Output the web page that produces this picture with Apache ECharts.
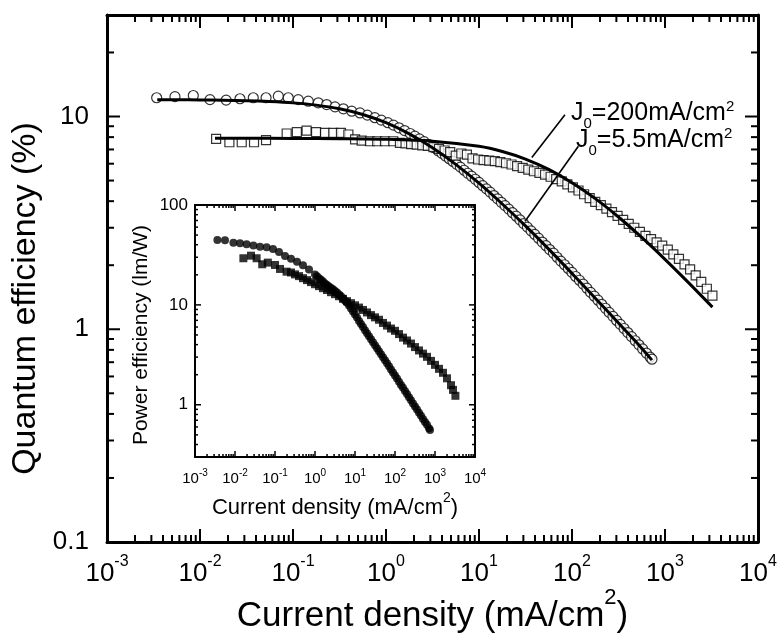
<!DOCTYPE html>
<html>
<head>
<meta charset="utf-8">
<title>Quantum efficiency vs current density</title>
<script src="https://cdn.jsdelivr.net/npm/echarts@6/dist/echarts.min.js"></script>
<style>
  html, body { margin: 0; padding: 0; background: #fff; }
  #chart { width: 780px; height: 635px; }
</style>
</head>
<body>
<div id="chart"></div>
<script>
// ---- values ----
// main plot, open circles (J0 = 5.5 mA/cm2 device)
const circJ = [0.00342, 0.00538, 0.00847, 0.0128, 0.0191, 0.0269, 0.0374, 0.0513, 0.0695, 0.0889,
  0.114, 0.146, 0.187, 0.230, 0.283, 0.348, 0.428, 0.525, 0.631, 0.759, 0.891, 1.047, 1.202, 1.380,
  1.585, 1.820, 2.042, 2.291, 2.570, 2.884, 3.236, 3.631, 3.981, 4.365, 4.786, 5.248, 5.754, 6.310,
  6.918, 7.586, 8.318, 9.120, 10.0, 10.96, 12.02, 13.18, 14.45, 15.85, 17.38, 19.05, 20.89, 22.91,
  25.12, 27.54, 30.20, 33.11, 36.31, 39.81, 43.65, 47.86, 52.48, 57.54, 63.10, 69.18, 75.86, 83.18,
  91.20, 100, 109.6, 120.2, 131.8, 144.5, 158.5, 173.8, 190.5, 208.9, 229.1, 251.2, 275.4, 302.0,
  331.1, 363.1, 398.1, 436.5, 478.6, 524.8, 575.4, 631.0, 691.8, 724.4];
const circQE = [12.25, 12.4, 12.55, 12.0, 11.94, 12.12, 12.25, 12.25, 12.46, 12.25,
  12.0, 11.8, 11.6, 11.38, 11.1, 10.87, 10.59, 10.39, 10.15, 9.87, 9.62, 9.35, 9.11, 8.85,
  8.59, 8.32, 8.09, 7.85, 7.62, 7.38, 7.14, 6.90, 6.71, 6.52, 6.33, 6.15, 5.96, 5.78,
  5.59, 5.41, 5.24, 5.07, 4.90, 4.73, 4.57, 4.41, 4.25, 4.10, 3.95, 3.81, 3.67, 3.53,
  3.40, 3.27, 3.14, 3.02, 2.90, 2.79, 2.68, 2.57, 2.47, 2.37, 2.28, 2.18, 2.09, 2.01,
  1.93, 1.85, 1.77, 1.70, 1.63, 1.56, 1.49, 1.43, 1.37, 1.31, 1.255, 1.20, 1.15, 1.10,
  1.054, 1.008, 0.965, 0.923, 0.883, 0.845, 0.808, 0.773, 0.739, 0.723];

// main plot, open squares (J0 = 200 mA/cm2 device)
const sqJ = [0.0149, 0.0207, 0.0281, 0.0381, 0.0513, 0.0855, 0.110, 0.140, 0.177, 0.221,
  0.271, 0.328, 0.394, 0.465, 0.548, 0.673, 0.805, 0.975, 1.197, 1.413, 1.622, 1.862, 2.138,
  2.455, 2.818, 3.236, 3.715, 4.266, 4.898, 5.623, 6.457, 7.413, 8.511, 9.772, 11.22, 12.88,
  14.79, 16.98, 19.50, 22.39, 25.70, 29.51, 33.88, 38.90, 44.67, 51.29, 58.88, 67.61, 77.62,
  89.13, 102.3, 117.5, 134.9, 154.9, 177.8, 204.2, 234.4, 269.2, 309.0, 354.8, 407.4, 467.7,
  537.0, 616.6, 707.9, 812.8, 933.3, 1072, 1230, 1413, 1622, 1862, 2138, 2455, 2818, 3236];
const sqQE = [7.85, 7.57, 7.57, 7.57, 7.74, 8.32, 8.44, 8.59, 8.44, 8.38,
  8.38, 8.38, 8.23, 7.80, 7.71, 7.65, 7.65, 7.65, 7.65, 7.52, 7.47, 7.42, 7.37,
  7.32, 7.27, 7.18, 7.05, 6.92, 6.80, 6.55, 6.70, 6.62, 6.35, 6.28, 6.24, 6.20,
  6.17, 6.10, 6.03, 5.95, 5.85, 5.74, 5.63, 5.53, 5.43, 5.33, 5.21, 5.08, 4.96,
  4.80, 4.64, 4.49, 4.31, 4.13, 3.97, 3.83, 3.69, 3.55, 3.41, 3.27, 3.13, 3.00,
  2.87, 2.75, 2.65, 2.56, 2.47, 2.37, 2.25, 2.14, 2.02, 1.91, 1.79, 1.67, 1.55, 1.44];

// fitted curves
const fitAJ = [0.00347, 0.00562, 0.01, 0.0178, 0.0316, 0.0562, 0.1, 0.178, 0.316, 0.562, 1, 1.78,
  3.16, 5.62, 10, 17.8, 31.6, 56.2, 100, 178, 316, 479, 724];
const fitAQE = [11.98, 11.98, 11.96, 11.92, 11.87, 11.76, 11.59, 11.31, 10.87, 10.22, 9.35, 8.29,
  7.13, 5.96, 4.86, 3.88, 3.06, 2.38, 1.83, 1.40, 1.07, 0.88, 0.716];
const fitBJ = [0.0145, 0.0316, 0.1, 0.316, 1, 3.16, 10, 17.8, 31.6, 56.2, 100, 178, 316, 562, 1000, 1778, 3236];
const fitBQE = [7.90, 7.90, 7.89, 7.87, 7.82, 7.66, 7.24, 6.85, 6.31, 5.64, 4.88, 4.11, 3.37, 2.70, 2.13, 1.66, 1.27];

// inset: power efficiency (lm/W)
const pCircJ = [0.00363, 0.00562, 0.00912, 0.01334, 0.0195, 0.0288, 0.0422, 0.0617, 0.0891, 0.126,
  0.178, 0.251, 0.355, 0.501, 0.708, 1.0, 1.122, 1.259, 1.413, 1.585, 1.778, 1.995, 2.239, 2.512,
  2.818, 3.162, 3.548, 3.981, 4.467, 5.012, 5.623, 6.310, 7.079, 7.943, 8.913, 10, 11.22, 12.59,
  14.13, 15.85, 17.78, 19.95, 22.39, 25.12, 28.18, 31.62, 35.48, 39.81, 44.67, 50.12, 56.23, 63.10,
  70.79, 79.43, 89.13, 100, 112.2, 125.9, 141.3, 158.5, 177.8, 199.5, 223.9, 251.2, 281.8, 316.2,
  354.8, 398.1, 446.7, 501.2, 562.3, 631.0, 707.9, 750];
const pCirc = [44.7, 44.4, 42.0, 41.4, 40.5, 39.2, 38.3, 37.8, 36.3, 33.9,
  30.9, 29.0, 27.0, 24.9, 22.6, 20.1, 19.3, 18.5, 17.8, 17.1, 16.4, 15.8, 15.3, 14.8,
  14.3, 13.8, 13.3, 12.7, 12.2, 11.6, 11.0, 10.5, 9.84, 9.2, 8.61, 8.0, 7.46, 6.9,
  6.44, 6.0, 5.58, 5.2, 4.84, 4.52, 4.22, 3.94, 3.67, 3.43, 3.20, 2.99, 2.79, 2.60,
  2.43, 2.26, 2.11, 1.96, 1.83, 1.70, 1.58, 1.48, 1.37, 1.28, 1.19, 1.11, 1.03, 0.96,
  0.895, 0.83, 0.776, 0.72, 0.673, 0.63, 0.583, 0.56];
const pSqJ = [0.0162, 0.0251, 0.0347, 0.0479, 0.0661, 0.1, 0.1334, 0.195, 0.251, 0.316, 0.398,
  0.501, 0.631, 0.794, 1.0, 1.259, 1.585, 1.995, 2.512, 3.162, 3.981, 5.012, 6.310, 7.943, 10,
  12.59, 15.85, 19.95, 25.12, 31.62, 39.81, 50.12, 63.10, 79.43, 100, 125.9, 158.5, 199.5, 251.2,
  316.2, 398.1, 501.2, 631.0, 794.3, 1000, 1259, 1585, 1995, 2512, 2818, 3236];
const pSq = [29.3, 31.1, 29.3, 25.5, 26.5, 25.1, 22.9, 21.5, 21.1, 20.2, 19.4,
  18.5, 17.7, 16.9, 16.1, 15.4, 14.7, 14.1, 13.4, 12.8, 12.2, 11.5, 10.9, 10.4, 9.9,
  9.4, 8.9, 8.4, 7.9, 7.5, 7.1, 6.6, 6.2, 5.8, 5.5, 5.1, 4.7, 4.4, 4.1,
  3.78, 3.5, 3.25, 3.02, 2.75, 2.51, 2.29, 2.09, 1.84, 1.57, 1.41, 1.23];

// annotation pointer lines (data coords)
const leader200 = [[84, 10.2], [37, 6.41]];
const leader55 = [[117, 7.25], [31.3, 3.22]];

// tick values
const xDecades = [0.001, 0.01, 0.1, 1, 10, 100, 1000, 10000];
const mainYMajor = [0.1, 1, 10];
const insetYMajor = [1, 10, 100];
const minorMult = [2, 3, 4, 5, 6, 7, 8, 9];
function minorsOf(decades) {
  const out = [];
  decades.forEach(d => minorMult.forEach(m => out.push(+(d * m).toPrecision(3))));
  return out;
}
const xMinor = minorsOf(xDecades.slice(0, -1));
const yMinor = minorsOf([0.1, 1, 10]);

const MAIN_X = [0.001, 10000], MAIN_Y = [0.1, 30];
const INSET_X = [0.001, 10000], INSET_Y = [0.3, 100];

const FONT = 'Liberation Sans, Arial, sans-serif';
const pairs = (xs, ys) => xs.map((x, i) => [x, ys[i]]);
const expFmt = v => '{b|10}{s|' + Math.round(Math.log10(v)) + '}';

function logAxis(grid, pos, range, lineW, extra) {
  return Object.assign({
    gridIndex: grid, type: 'log', logBase: 10, min: range[0], max: range[1], position: pos,
    splitLine: { show: false }, axisPointer: { show: false }, silent: true,
    axisLine: { show: true, onZero: false, lineStyle: { color: '#000', width: lineW } },
    axisTick: { show: false }, axisLabel: { show: false }
  }, extra || {});
}

const xAxes = [
  logAxis(0, 'bottom', MAIN_X, 3, {
    axisLabel: {
      show: true, customValues: xDecades, formatter: expFmt, margin: 12,
      rich: {
        b: { fontSize: 26, fontFamily: FONT, color: '#000', padding: [7, 0, 0, 0] },
        s: { fontSize: 16, fontFamily: FONT, color: '#000', verticalAlign: 'top' }
      }
    },
    name: '{a|Current density (mA/cm}{s|2}{a|)}', nameLocation: 'middle', nameGap: 45,
    nameMoveOverlap: false,
    nameTextStyle: { rich: {
      a: { fontSize: 35, fontFamily: FONT, color: '#000', padding: [12, 0, 0, 0] },
      s: { fontSize: 22, fontFamily: FONT, color: '#000', verticalAlign: 'top' }
    } }
  }),
  logAxis(0, 'top', MAIN_X, 3),
  logAxis(1, 'bottom', INSET_X, 2, {
    axisLabel: {
      show: true, customValues: xDecades, formatter: expFmt, margin: 11,
      rich: {
        b: { fontSize: 15, fontFamily: FONT, color: '#000', padding: [3, 0, 0, 0] },
        s: { fontSize: 10, fontFamily: FONT, color: '#000', verticalAlign: 'top' }
      }
    },
    name: '{a|Current density (mA/cm}{s|2}{a|)}', nameLocation: 'middle', nameGap: 34,
    nameMoveOverlap: false,
    nameTextStyle: { rich: {
      a: { fontSize: 22, fontFamily: FONT, color: '#000', padding: [6, 0, 0, 0] },
      s: { fontSize: 14, fontFamily: FONT, color: '#000', verticalAlign: 'top' }
    } }
  }),
  logAxis(1, 'top', INSET_X, 2)
];

const yAxes = [
  logAxis(0, 'left', MAIN_Y, 3, {
    axisLabel: {
      show: true, customValues: mainYMajor, margin: 18, fontSize: 26, fontFamily: FONT, color: '#000',
      formatter: v => (v < 0.5 ? '0.1' : String(Math.round(v)))
    },
    name: 'Quantum efficiency (%)', nameLocation: 'middle', nameGap: 64, nameMoveOverlap: false,
    nameTextStyle: { fontSize: 34, fontFamily: FONT, color: '#000', padding: [0, 40, 0, 0] }
  }),
  logAxis(0, 'right', MAIN_Y, 3),
  logAxis(1, 'left', INSET_Y, 2, {
    axisLabel: {
      show: true, customValues: insetYMajor, margin: 7, fontSize: 17, fontFamily: FONT, color: '#000',
      formatter: v => String(Math.round(v))
    },
    name: 'Power efficiency (lm/W)', nameLocation: 'middle', nameGap: 43, nameMoveOverlap: false,
    nameTextStyle: { fontSize: 21, fontFamily: FONT, color: '#000', padding: [0, 8, 0, 0] }
  }),
  logAxis(1, 'right', INSET_Y, 2)
];

const openSym = { color: '#fff', borderColor: '#000', borderWidth: 1.2 };
const fitLine = { color: '#000', width: 3 };
const noteRich = {
  t: { fontSize: 25, fontFamily: FONT, fill: '#000', verticalAlign: 'top', padding: [2, 0, 0, 0] },
  u: { fontSize: 15, fontFamily: FONT, fill: '#000', verticalAlign: 'top', padding: [17, 0, 0, 0] },
  p: { fontSize: 15, fontFamily: FONT, fill: '#000', verticalAlign: 'top' }
};
const notes = [
  { type: 'text', left: 571, top: 99, z: 10,
    style: { text: '{t|J}{u|0}{t|=200mA/cm}{p|2}', fill: '#000', rich: noteRich } },
  { type: 'text', left: 576, top: 126, z: 10,
    style: { text: '{t|J}{u|0}{t|=5.5mA/cm}{p|2}', fill: '#000', rich: noteRich } }
];

const option = {
  animation: false,
  backgroundColor: '#fff',
  grid: [
    { left: 107, top: 15, width: 651, height: 527, outerBoundsMode: 'none' },
    { left: 195, top: 205, width: 280, height: 252, outerBoundsMode: 'none',
      show: true, backgroundColor: '#fff', borderWidth: 0 }
  ],
  xAxis: xAxes,
  yAxis: yAxes,
  series: [
    { type: 'scatter', xAxisIndex: 0, yAxisIndex: 0, symbol: 'circle', symbolSize: 10,
      itemStyle: openSym, data: pairs(circJ, circQE), z: 2 },
    { type: 'scatter', xAxisIndex: 0, yAxisIndex: 0, symbol: 'rect', symbolSize: 9,
      itemStyle: openSym, data: pairs(sqJ, sqQE), z: 2 },
    { type: 'line', xAxisIndex: 0, yAxisIndex: 0, showSymbol: false, symbol: 'none', smooth: 0.3,
      lineStyle: fitLine, data: pairs(fitAJ, fitAQE), z: 3 },
    { type: 'line', xAxisIndex: 0, yAxisIndex: 0, showSymbol: false, symbol: 'none', smooth: 0.3,
      lineStyle: fitLine, data: pairs(fitBJ, fitBQE), z: 3 },
    { type: 'line', xAxisIndex: 0, yAxisIndex: 0, showSymbol: false, symbol: 'none',
      lineStyle: { color: '#000', width: 1.6 }, data: leader200, z: 3 },
    { type: 'line', xAxisIndex: 0, yAxisIndex: 0, showSymbol: false, symbol: 'none',
      lineStyle: { color: '#000', width: 1.6 }, data: leader55, z: 3 },
    { type: 'scatter', xAxisIndex: 2, yAxisIndex: 2, symbol: 'circle', symbolSize: 8,
      itemStyle: { color: '#000' }, data: pairs(pCircJ, pCirc), z: 4 },
    { type: 'scatter', xAxisIndex: 2, yAxisIndex: 2, symbol: 'rect', symbolSize: 8,
      itemStyle: { color: '#000' }, data: pairs(pSqJ, pSq), z: 4 }
  ],
  graphic: notes
};

const chart = echarts.init(document.getElementById('chart'), null, { renderer: 'canvas' });
chart.setOption(option);

// inward ticks on all four sides, positioned through each plot's own log scales
function tickLines(seriesIndex, xr, yr, xMaj, xMin, yMaj, yMin, lenMaj, lenMin, w) {
  const finder = { seriesIndex: seriesIndex };
  const out = [];
  const seg = (x1, y1, x2, y2) => out.push({ type: 'line', z: 20, silent: true,
    shape: { x1: x1, y1: y1, x2: x2, y2: y2 }, style: { stroke: '#000', lineWidth: w } });
  const xTick = (v, len) => {
    const a = chart.convertToPixel(finder, [v, yr[0]]);
    const b = chart.convertToPixel(finder, [v, yr[1]]);
    seg(a[0], a[1], a[0], a[1] - len);
    seg(b[0], b[1], b[0], b[1] + len);
  };
  const yTick = (v, len) => {
    const a = chart.convertToPixel(finder, [xr[0], v]);
    const b = chart.convertToPixel(finder, [xr[1], v]);
    seg(a[0], a[1], a[0] + len, a[1]);
    seg(b[0], b[1], b[0] - len, b[1]);
  };
  xMaj.forEach(v => xTick(v, lenMaj));
  xMin.filter(v => v > xr[0] && v < xr[1]).forEach(v => xTick(v, lenMin));
  yMaj.forEach(v => yTick(v, lenMaj));
  yMin.filter(v => v > yr[0] && v < yr[1]).forEach(v => yTick(v, lenMin));
  return out;
}

const ticks = [].concat(
  tickLines(0, MAIN_X, MAIN_Y, xDecades, xMinor, mainYMajor, yMinor, 13, 7, 2),
  tickLines(6, INSET_X, INSET_Y, xDecades, xMinor, insetYMajor, yMinor, 6, 3, 1.5)
);
chart.setOption({ graphic: notes.concat(ticks) });
</script>
</body>
</html>
